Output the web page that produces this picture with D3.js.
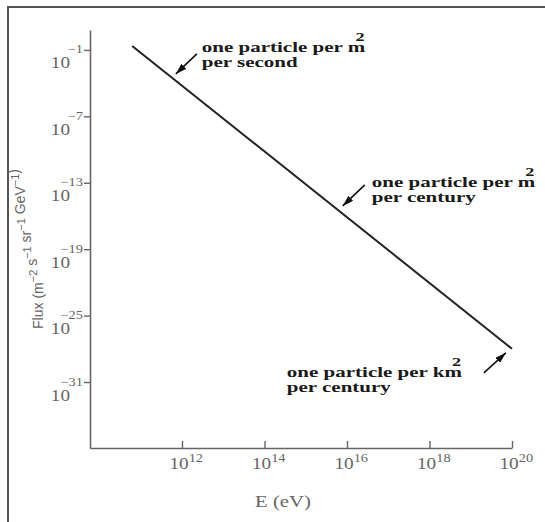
<!DOCTYPE html>
<html>
<head>
<meta charset="utf-8">
<script src="https://cdn.jsdelivr.net/npm/d3@7"></script>
<style>
    body { margin: 0; background: #fff; }
    svg { display: block; }
</style>
</head>
<body>
<script>
// data
const energy = [6.2e10, 1e20];          // eV, ends of the spectrum line
const flux = [2.3e-1, 1e-28];           // m^-2 s^-1 sr^-1 GeV^-1
const xTickExp = [12, 14, 16, 18, 20];
const yTickExp = [-1, -7, -13, -19, -25, -31];
const noteEnergy = [7.1e11, 7.9e15, 7.1e19];
const noteFlux = [6.8e-4, 8.1e-16, 4.3e-29];
const noteLine1 = ["one particle per m", "one particle per m", "one particle per km"];
const noteLine2 = ["per second", "per century", "per century"];

const W = 545, H = 522;
const serif = "'Liberation Serif', 'DejaVu Serif', serif";
const grey = "#666";

const svg = d3.select("body").append("svg")
    .attr("width", W).attr("height", H);

// frame (only top and left edges show)
svg.append("path")
    .attr("d", `M8,${H} V7 H${W}`)
    .attr("fill", "none").attr("stroke", "#555").attr("stroke-width", 2);

const scaleX = d3.scaleLog()
    .domain([10 ** 9.77, 1e20])
    .range([90, 512]);
const scaleY = d3.scaleLog()
    .domain([10 ** -36.96, 10 ** 0.8])
    .range([448, 30]);

// x axis
const gx = svg.append("g")
    .attr("transform", `translate(0,448)`)
    .call(d3.axisBottom(scaleX)
        .tickValues(xTickExp.map(e => 10 ** e))
        .tickSizeInner(-7)
        .tickSizeOuter(0)
        .tickFormat(""));
gx.select(".domain").attr("stroke", grey).attr("stroke-width", 1.6);
gx.selectAll(".tick line").attr("stroke", grey).attr("stroke-width", 1.4);
gx.selectAll(".tick").each(function (d, i) {
    const t = d3.select(this).append("text")
        .attr("transform", "translate(-13,21) scale(1.2,1)")
        .attr("fill", grey).attr("font-family", serif).attr("font-size", 16)
        .attr("text-anchor", "start");
    t.append("tspan").text("10");
    t.append("tspan").attr("dy", -7).attr("font-size", 12).text(xTickExp[i]);
});

// y axis
const gy = svg.append("g")
    .attr("transform", `translate(90,0)`)
    .call(d3.axisLeft(scaleY)
        .tickValues(yTickExp.map(e => 10 ** e))
        .tickSizeInner(6)
        .tickSizeOuter(0)
        .tickFormat(""));
gy.select(".domain").attr("stroke", grey).attr("stroke-width", 1.6);
gy.selectAll(".tick line").attr("stroke", grey).attr("stroke-width", 1.4);
gy.selectAll(".tick").each(function (d, i) {
    const g = d3.select(this);
    g.append("text")
        .attr("transform", "translate(-20,18) scale(1.2,1)")
        .attr("fill", grey).attr("font-family", serif).attr("font-size", 16)
        .attr("text-anchor", "end")
        .text("10");
    g.append("text")
        .attr("transform", "translate(-7,3) scale(1.2,1)")
        .attr("fill", grey).attr("font-family", serif).attr("font-size", 12)
        .attr("text-anchor", "end")
        .text("\u2212" + Math.abs(yTickExp[i]));
});

// axis titles
svg.append("text")
    .attr("transform", "translate(283,507) scale(1.3,1)")
    .attr("text-anchor", "middle")
    .attr("fill", grey).attr("font-family", serif).attr("font-size", 16)
    .text("E (eV)");

const yTitle = svg.append("text")
    .attr("transform", "translate(43,249) rotate(-90)")
    .attr("text-anchor", "middle")
    .attr("fill", grey).attr("font-family", "'Liberation Sans', Arial, sans-serif")
    .attr("font-size", 14);
[["Flux (m", "\u22122"], [" s", "\u22121"], [" sr", "\u22121"], [" GeV", "\u22121"]].forEach(([base, sup]) => {
    yTitle.append("tspan").attr("dy", 0).text(base);
    yTitle.append("tspan").attr("dy", -6).attr("font-size", 11).text(sup);
    yTitle.append("tspan").attr("dy", 6).text("");
});
yTitle.append("tspan").text(")");

// spectrum
const line = d3.line()
    .x(d => scaleX(d[0]))
    .y(d => scaleY(d[1]));
svg.append("path")
    .datum(d3.zip(energy, flux))
    .attr("d", line)
    .attr("fill", "none")
    .attr("stroke", "#222")
    .attr("stroke-width", 2);

// annotations
svg.append("defs").append("marker")
    .attr("id", "head")
    .attr("viewBox", "0 0 11 7")
    .attr("refX", 11).attr("refY", 3.5)
    .attr("markerWidth", 11).attr("markerHeight", 7)
    .attr("markerUnits", "userSpaceOnUse")
    .attr("orient", "auto")
    .append("path").attr("d", "M0,0 L11,3.5 L0,7 Z").attr("fill", "#111");

const tailOffset = [[21, -20], [22, -21], [-22, 20]];
const textOffset = [[26, -22], [29, -19], [-219, 24]];

noteEnergy.forEach((e, i) => {
    const hx = scaleX(e), hy = scaleY(noteFlux[i]);
    svg.append("line")
        .attr("x1", hx + tailOffset[i][0]).attr("y1", hy + tailOffset[i][1])
        .attr("x2", hx).attr("y2", hy)
        .attr("stroke", "#111").attr("stroke-width", 1.6)
        .attr("marker-end", "url(#head)");

    const g = svg.append("g")
        .attr("transform", `translate(${hx + textOffset[i][0]},${hy + textOffset[i][1]}) scale(1.4,1)`)
        .attr("font-family", serif).attr("font-weight", "bold").attr("font-size", 15)
        .attr("fill", "#1a1a1a");
    g.append("text").text(noteLine1[i]);
    // superscript sits just above the end of the unit, as in the original
    g.append("text")
        .attr("x", g.select("text").node().getComputedTextLength() - 7)
        .attr("y", -11)
        .attr("font-size", 13)
        .text("2");
    g.append("text").attr("y", 15).text(noteLine2[i]);
});
</script>
</body>
</html>
